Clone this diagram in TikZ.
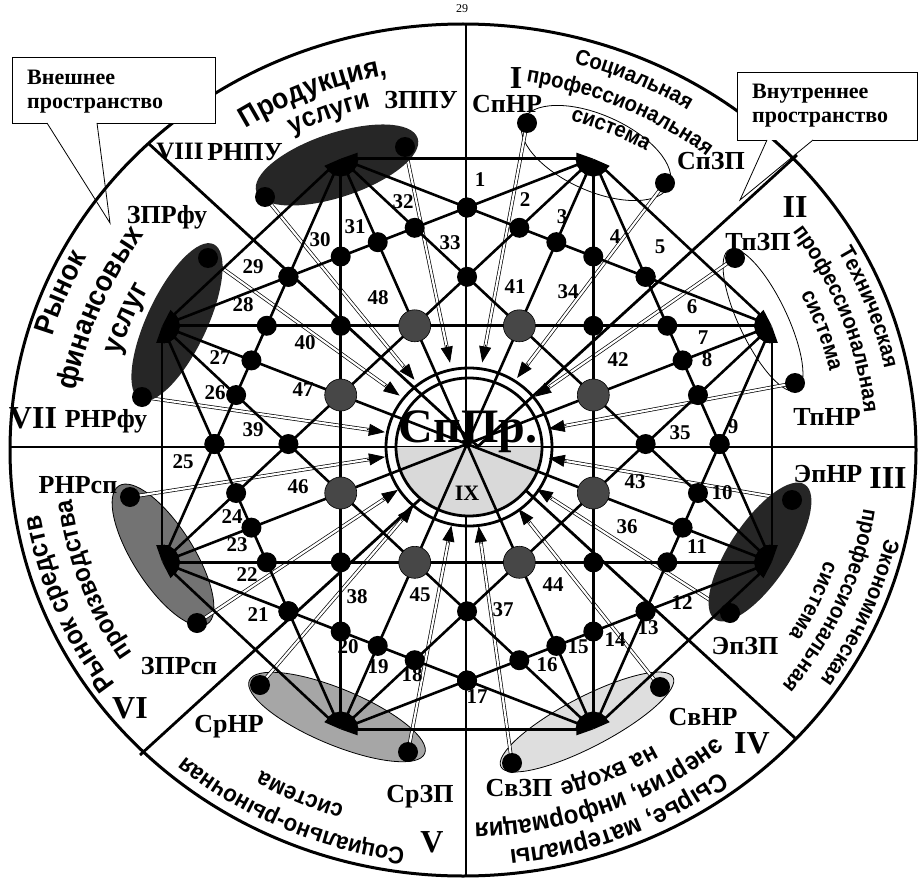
\documentclass[tikz,border=0pt]{standalone}
\usepackage{fontspec}
\setmainfont{Liberation Serif}
\newfontfamily\nsans[FakeStretch=0.92]{Liberation Sans}
\usetikzlibrary{calc,arrows.meta,decorations.text}
\newcommand\arctext[5]{%
  \path[decorate,decoration={text along path,text align=center,
      text={|\nsans\bfseries\fontsize{#4}{#4}\selectfont|#5}}]
    plot[domain=#2-#3:#2+#3,samples=161]
    ({463+453*#1*cos(\x)},{450+426*#1*sin(\x)});}
\begin{document}
\begin{tikzpicture}[x=1pt,y=-1pt,
  chord/.style={line width=2.6pt,{Triangle[length=17pt,width=11pt]}-{Triangle[length=17pt,width=11pt]}},
  divider/.style={line width=2.8pt},
  dbl/.style={draw=black,double=white,double distance=2.2pt,line width=0.7pt},
  inarrow/.style={line width=0.8pt,-{Triangle[length=16pt,width=12pt]}},
  num/.style={font=\bfseries\fontsize{21}{21}\selectfont,inner sep=0pt},
  lab/.style={font=\bfseries\fontsize{26}{26}\selectfont,inner sep=0pt},
  roman/.style={font=\bfseries\fontsize{32}{32}\selectfont,inner sep=0pt},
  boxtext/.style={font=\bfseries\fontsize{22}{22}\selectfont,inner sep=0pt,anchor=base west},
  thinline/.style={line width=0.8pt}
]
\useasboundingbox (0,0) rectangle (921,880);
\node[font=\fontsize{12}{12}\selectfont] (pg) at (462,9) {29};
% outer ellipse and dividers
\draw[line width=3pt] (463,450) ellipse[x radius=453, y radius=426];
\draw[divider] (466,24) -- (466,876);
\draw[divider] (10,447) -- (916,447);
\draw[divider] (148,143) -- (795,738);
\draw[divider] (797,155) -- (140,755);
% geometry
\coordinate (C) at (467,444);
\foreach \k in {0,...,7}{\coordinate (v\k) at ({467+330*cos(-67.5+45*\k)},{444+309*sin(-67.5+45*\k)});}
\foreach \i in {0,...,7}{
  \pgfmathtruncatemacro\pa{mod(\i+7,8)}
  \pgfmathtruncatemacro\pb{mod(\i+1,8)}
  \pgfmathtruncatemacro\pc{mod(\i+2,8)}
  \pgfmathtruncatemacro\qf{mod(\i+5,8)}
  \pgfmathtruncatemacro\qd{mod(\i+4,8)}
  \coordinate (m\i) at (intersection cs: first line={(v\i)--(v\qf)}, second line={(v\pa)--(v\pc)});
  \coordinate (g\i) at (intersection cs: first line={(v\i)--(v\qd)}, second line={(v\pa)--(v\pc)});
  \foreach \j in {2,...,6}{
    \pgfmathtruncatemacro\q{mod(\i+\j,8)}
    \coordinate (d\i\j) at (intersection cs: first line={(v\i)--(v\q)}, second line={(v\pa)--(v\pb)});
  }
}
% outer points
\coordinate (o1) at (527,123);  \coordinate (o2) at (665,183);
\coordinate (o3) at (735,258);  \coordinate (o4) at (795,383);
\coordinate (o5) at (792,500);  \coordinate (o6) at (730,613);
\coordinate (o7) at (660,687);  \coordinate (o8) at (512,763);
\coordinate (o9) at (408,752);  \coordinate (o10) at (260,685);
\coordinate (o11) at (197,623); \coordinate (o12) at (130,497);
\coordinate (o13) at (142,397); \coordinate (o14) at (208,258);
\coordinate (o15) at (405,147); \coordinate (o16) at (265,197);
% light ellipses
\draw[thinline,fill=black!13,rotate around={27.5:(587,722)}] (587,722) ellipse[x radius=97, y radius=25];
\draw[thinline,fill=black!35,rotate around={-22.6:(337,717)}] (337,717) ellipse[x radius=95, y radius=28];
\draw[thinline,fill=black!55,rotate around={-57.4:(163,555)}] (163,555) ellipse[x radius=82, y radius=30];
\draw[thinline,rotate around={-24:(596,153)}] (596,153) ellipse[x radius=80, y radius=38];
\draw[thinline,rotate around={-64.5:(763,320)}] (763,320) ellipse[x radius=78, y radius=24];
% centre shading and title
\fill[black!15] plot[domain=0:180,samples=40] ({469+72*cos(\x)},{447+68*sin(\x)}) -- cycle;
\node[font=\bfseries\fontsize{48}{48}\selectfont,inner sep=0pt] (sppr) at (468,432) {СпПр.};
\node[font=\bfseries\fontsize{22}{22}\selectfont,inner sep=0pt] (ix) at (467,493) {IX};
% double lines to centre
\foreach \n in {1,...,16}{
  \draw[dbl] (o\n) -- ($(C)!97pt!(o\n)$);
  \draw[inarrow] ($(C)!101pt!(o\n)$) -- ($(C)!83pt!(o\n)$);
}
% dark ellipses
\fill[black!85,rotate around={18.4:(337,165)}] (337,165) ellipse[x radius=85, y radius=32];
\fill[black!85,rotate around={64.8:(177,322)}] (177,322) ellipse[x radius=86, y radius=30];
\fill[black!85,rotate around={56.3:(760,552)}] (760,552) ellipse[x radius=81, y radius=30];
% chords
\foreach \i in {0,...,6}{\pgfmathtruncatemacro\s{\i+1}\foreach \j in {\s,...,7}{\draw[chord] (v\i) -- (v\j);}}
% centre rings
\draw[line width=2.8pt] (469,447) ellipse[x radius=83, y radius=79];
\draw[line width=2.8pt] (469,447) ellipse[x radius=73, y radius=69];
% dots
\foreach \i in {0,...,7}{
  \foreach \j in {2,...,6}{\fill (d\i\j) circle[radius=10];}
  \fill (m\i) circle[radius=10];
  \draw[line width=0.6pt,fill=black!72] (g\i) circle[radius=16];
}
\foreach \n in {1,...,16}{\fill (o\n) circle[radius=10];}
% numbers
\foreach \t/\p in {1/{480,180},2/{525,200},3/{562,217},4/{615,237},5/{660,247},
  6/{692,307},7/{703,338},8/{707,360},9/{733,427},10/{722,493},11/{697,547},12/{682,603},
  13/{648,628},14/{615,640},15/{578,647},16/{547,665},17/{477,697},18/{412,675},19/{378,667},
  20/{348,647},21/{258,615},22/{247,575},23/{237,545},24/{232,517},25/{183,462},26/{215,393},
  27/{220,358},28/{243,305},29/{253,267},30/{320,240},31/{355,227},32/{403,202},33/{450,243},
  34/{568,292},35/{680,433},36/{627,527},37/{503,610},38/{357,597},39/{253,430},40/{305,343},
  41/{515,287},42/{618,360},43/{635,482},44/{553,585},45/{420,595},46/{298,487},47/{303,390},48/{378,298}}
  {\node[num] (n\t) at (\p) {\t};}
% outer labels
\node[lab] (lspnr) at (507,104) {СпНР};
\node[lab] (lspzp) at (711,161) {СпЗП};
\node[lab] (ltpzp) at (758,242) {ТпЗП};
\node[lab] (ltpnr) at (827,417) {ТпНР};
\node[lab] (lepnr) at (828,474) {ЭпНР};
\node[lab] (lepzp) at (745,646) {ЭпЗП};
\node[lab] (lsvnr) at (703,717) {СвНР};
\node[lab] (lsvzp) at (519,788) {СвЗП};
\node[lab] (lsrzp) at (420,797) {СрЗП};
\node[lab] (lsrnr) at (229,727) {СрНР};
\node[lab] (lzprsp) at (179,666) {ЗПРсп};
\node[lab] (lrnrsp) at (78,485) {РНРсп};
\node[lab] (lrnrfu) at (106,421) {РНРфу};
\node[lab] (lzprfu) at (167,217) {ЗПРфу};
\node[lab] (lzppu) at (421,100) {ЗППУ};
\node[lab] (lrnpu) at (245,152) {РНПУ};
% roman numerals
\node[roman] (r1) at (516,78) {I};
\node[roman] (r2) at (795,207) {II};
\node[roman] (r3) at (888,478) {III};
\node[roman] (r4) at (752,743) {IV};
\node[roman] (r5) at (432,842) {V};
\node[roman] (r6) at (130,708) {VI};
\node[roman] (r7) at (33,418) {VII};
\node[roman,font=\bfseries\fontsize{25}{25}\selectfont] (r8) at (180,152) {VIII};
% curved sector titles
\arctext{0.94}{-66}{40}{22}{Социальная}
\arctext{0.875}{-66}{40}{22}{профессиональная}
\arctext{0.81}{-66}{40}{22}{система}
\arctext{0.95}{-20}{40}{22}{Техническая}
\arctext{0.89}{-20}{40}{22}{профессиональная}
\arctext{0.83}{-19}{40}{22}{система}
\arctext{0.955}{23}{40}{22}{Экономическая}
\arctext{0.895}{23}{40}{22}{профессиональная}
\arctext{0.84}{24}{40}{22}{система}
\arctext{0.945}{68}{40}{26}{Сырье, материалы}
\arctext{0.877}{69}{40}{26}{энергия, информация}
\arctext{0.81}{66.3}{40}{25}{на входе}
\arctext{0.945}{114.5}{40}{24}{Социально-рыночная}
\arctext{0.875}{114.5}{40}{24}{система}
\arctext{0.945}{158}{40}{27}{Рынок средств}
\arctext{0.872}{160}{40}{26}{производства}
\arctext{0.945}{202}{40}{29}{Рынок}
\arctext{0.865}{202}{40}{29}{финансовых}
\arctext{0.79}{202}{40}{29}{услуг}
\arctext{0.895}{-112}{40}{29}{Продукция,}
\arctext{0.83}{-111}{40}{27}{услуги}
% callout boxes
\fill[white] (12,57) rectangle (215,123);
\draw[thinline] (47,123) -- (12,123) -- (12,57) -- (215,57) -- (215,123) -- (97,123);
\coordinate (tipA) at (110,223);
\draw[thinline] (47,123) -- (tipA) -- (97,123);
\node[boxtext] (ext1) at (27,85) {Внешнее};
\node[boxtext] (ext2) at (27,109) {пространство};
\fill[white] (737,72) rectangle (917,140);
\draw[thinline] (767,140) -- (737,140) -- (737,72) -- (917,72) -- (917,140) -- (813,140);
\coordinate (tipB) at (740,200);
\draw[thinline] (767,140) -- (tipB) -- (813,140);
\node[boxtext] (int1) at (752,99) {Внутреннее};
\node[boxtext] (int2) at (752,123) {пространство};
\end{tikzpicture}
\end{document}
